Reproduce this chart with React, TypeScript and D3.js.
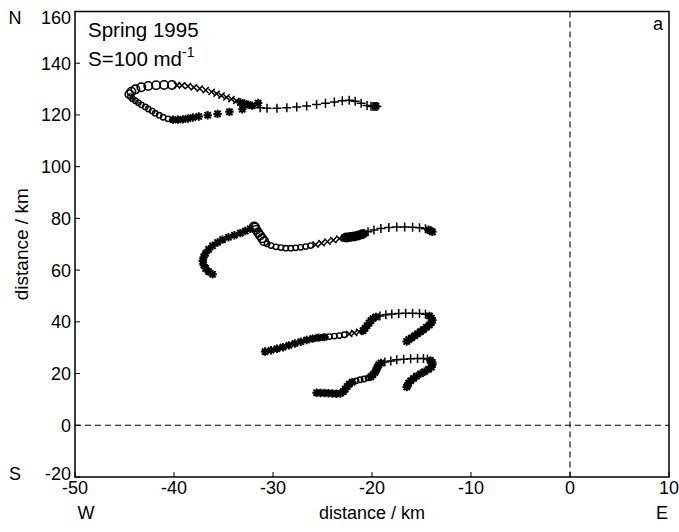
import React from "react";
import * as d3 from "d3";

type P = [number, number];

// ---- axis ticks ----
const xTicks = [-50, -40, -30, -20, -10, 0, 10];
const yTicks = [-20, 0, 20, 40, 60, 80, 100, 120, 140, 160];

// ---- trajectory 1 (top) ----
const t1Plus: P[] = [[-19.5,123.3],[-19.7,123.3],[-19.9,123.3],[-20.1,123.4],[-20.5,123.7],[-21.1,124.5],[-21.7,125.3],[-22.3,125.7],[-23.0,125.5],[-23.8,125.0],[-24.7,124.5],[-25.6,124.0],[-26.6,123.5],[-27.6,123.1],[-28.6,122.8],[-29.6,122.6],[-30.6,122.6],[-31.3,122.8]];
const t1StarA: P[] = [[-19.6,123.4],[-31.5,124.6],[-32.1,123.6],[-32.5,124.0],[-32.9,124.4],[-33.3,124.8]];
const t1Cross: P[] = [[-33.7,125.4],[-34.2,126.1],[-34.7,126.8],[-35.2,127.5],[-35.7,128.2],[-36.2,128.9],[-36.8,129.6],[-37.4,130.2],[-38.0,130.7],[-38.6,131.1],[-39.2,131.4],[-39.7,131.5]];
const t1Circle: P[] = [[-40.2,131.6],[-41.0,131.6],[-41.8,131.5],[-42.6,131.2],[-43.3,130.7],[-43.9,129.9],[-44.3,129.0],[-44.5,128.0]];
const t1Small: P[] = [[-44.4,127.1],[-44.2,126.3],[-43.9,125.5],[-43.6,124.7],[-43.3,123.9],[-42.9,123.1],[-42.6,122.3],[-42.2,121.5],[-41.9,120.7],[-41.5,119.9],[-41.1,119.1],[-40.6,118.5]];
const t1Star: P[] = [[-40.1,118.2],[-39.6,118.2],[-39.1,118.3],[-38.6,118.6],[-38.1,119.0],[-37.5,119.4],[-36.6,119.9],[-35.6,120.4],[-34.4,121.2],[-33.1,122.2]];

// ---- trajectory 2 ----
const t2Plus: P[] = [[-14.6,76.0],[-15.2,76.4],[-15.9,76.6],[-16.7,76.7],[-17.5,76.7],[-18.3,76.5],[-19.1,76.1],[-19.8,75.5],[-20.4,74.8]];
const t2StarA: P[] = [[-13.9,74.8],[-14.1,75.2],[-14.3,75.6],[-20.8,74.2],[-21.2,73.6],[-21.6,73.2],[-22.0,72.9],[-22.4,72.7],[-22.8,72.6]];
const t2CircleA: P[] = [[-21.0,73.9],[-21.4,73.4],[-21.8,73.0],[-22.2,72.8],[-22.6,72.6]];
const t2Cross: P[] = [[-23.3,72.2],[-23.9,71.6],[-24.5,71.0],[-25.1,70.4],[-25.7,69.9]];
const t2Small: P[] = [[-26.2,69.5],[-26.7,69.1],[-27.2,68.8],[-27.7,68.6],[-28.2,68.5],[-28.7,68.5],[-29.2,68.7],[-29.7,69.0],[-30.2,69.5],[-30.6,70.2]];
const t2Circle: P[] = [[-30.9,71.2],[-31.1,72.3],[-31.3,73.4],[-31.5,74.5],[-31.7,75.6],[-31.8,76.5],[-31.9,76.9]];
const t2Star: P[] = [[-32.3,76.0],[-32.8,75.1],[-33.3,74.3],[-33.9,73.5],[-34.5,72.7],[-35.1,71.8],[-35.6,70.7],[-36.1,69.4],[-36.5,68.0],[-36.8,66.5],[-37.0,65.0],[-37.1,63.5],[-37.0,62.0],[-36.8,60.6],[-36.5,59.4],[-36.1,58.4]];

// ---- trajectory 3 ----
const t3Star: P[] = [[-30.8,28.5],[-30.2,29.0],[-29.6,29.6],[-29.0,30.2],[-28.4,30.9],[-27.8,31.6],[-27.2,32.3],[-26.6,33.0],[-26.0,33.5],[-25.4,33.9],[-24.8,34.1]];
const t3Circle: P[] = [[-25.6,33.8],[-25.0,34.0],[-24.3,34.3],[-23.8,34.5],[-23.3,34.7],[-22.8,35.0]];
const t3Cross: P[] = [[-22.3,35.3],[-21.8,35.7],[-21.3,36.1]];
const t3StarB: P[] = [[-20.9,36.6],[-20.7,37.5],[-20.5,38.5],[-20.3,39.5],[-20.1,40.5],[-19.9,41.3],[-19.6,41.9],[-14.2,42.3],[-14.0,41.5],[-13.9,40.6],[-14.0,39.7],[-14.2,38.8],[-14.5,37.9],[-14.8,37.0],[-15.1,36.2],[-15.4,35.4],[-15.7,34.6],[-16.0,33.8],[-16.3,33.1],[-16.5,32.4]];
const t3Plus: P[] = [[-19.2,42.3],[-18.6,42.7],[-18.0,43.0],[-17.3,43.2],[-16.6,43.3],[-15.9,43.3],[-15.2,43.2],[-14.6,42.9]];

// ---- trajectory 4 (bottom) ----
const t4Star: P[] = [[-25.6,12.6],[-25.2,12.5],[-24.8,12.5],[-24.4,12.4],[-24.0,12.3],[-23.6,12.2],[-23.2,12.3],[-22.9,13.0],[-22.7,14.0],[-22.5,15.0],[-22.3,15.9],[-22.0,16.7]];
const t4Circle: P[] = [[-21.6,17.2],[-21.2,17.6],[-20.8,17.9],[-20.4,18.3]];
const t4StarB: P[] = [[-20.1,18.8],[-19.9,19.6],[-19.7,20.4],[-19.6,21.2],[-19.5,22.0],[-19.4,22.8],[-19.3,23.5],[-19.1,24.1],[-14.1,25.1],[-13.9,24.3],[-13.9,23.4],[-14.0,22.5],[-14.3,21.6],[-14.7,20.7],[-15.1,19.9],[-15.5,19.0],[-15.8,18.1],[-16.1,17.2],[-16.3,16.3],[-16.4,15.4],[-16.5,14.8]];
const t4Plus: P[] = [[-18.7,24.5],[-18.1,24.9],[-17.5,25.3],[-16.8,25.5],[-16.1,25.7],[-15.4,25.8],[-14.8,25.8],[-14.4,25.6]];

type Marker = "plus" | "cross" | "circle" | "small" | "star";
const segments: { pts: P[]; m: Marker }[] = [
  { pts: t1Plus, m: "plus" }, { pts: t1StarA, m: "star" }, { pts: t1Cross, m: "cross" },
  { pts: t1Circle, m: "circle" }, { pts: t1Small, m: "small" }, { pts: t1Star, m: "star" },
  { pts: t2Plus, m: "plus" }, { pts: t2StarA, m: "star" }, { pts: t2CircleA, m: "circle" },
  { pts: t2Cross, m: "cross" }, { pts: t2Small, m: "small" }, { pts: t2Circle, m: "circle" },
  { pts: t2Star, m: "star" },
  { pts: t3Star, m: "star" }, { pts: t3Circle, m: "small" }, { pts: t3Cross, m: "cross" },
  { pts: t3StarB, m: "star" }, { pts: t3Plus, m: "plus" },
  { pts: t4Star, m: "star" }, { pts: t4Circle, m: "small" }, { pts: t4StarB, m: "star" },
  { pts: t4Plus, m: "plus" },
];

const FONT = "'Liberation Sans', Arial, sans-serif";

function markerEl(m: Marker, cx: number, cy: number, key: string) {
  if (m === "circle") return <circle key={key} cx={cx} cy={cy} r={4.2} fill="none" stroke="#000" strokeWidth={1.6} />;
  if (m === "small") return <circle key={key} cx={cx} cy={cy} r={2.7} fill="none" stroke="#000" strokeWidth={1.4} />;
  let d = "";
  if (m === "plus" || m === "star") {
    const s = m === "star" ? 4.2 : 4.5;
    d += `M${cx - s},${cy}H${cx + s}M${cx},${cy - s}V${cy + s}`;
  }
  if (m === "cross" || m === "star") {
    const s = 3.1;
    d += `M${cx - s},${cy - s}L${cx + s},${cy + s}M${cx - s},${cy + s}L${cx + s},${cy - s}`;
  }
  return <path key={key} d={d} stroke="#000" strokeWidth={m === "star" ? 2 : 1.5} fill="none" />;
}

export default function App() {
  const W = 679, H = 532;
  const left = 75, right = 669, top = 11.5, bottom = 477;
  const x = d3.scaleLinear().domain([-50, 10]).range([left, right]);
  const y = d3.scaleLinear().domain([-20, 160]).range([bottom, top]);

  return (
    <svg width={W} height={H} style={{ position: "absolute", left: 0, top: 0, background: "#fff" }} fontFamily={FONT}>
      <rect x={0} y={0} width={W} height={H} fill="#fff" />
      {/* dashed zero lines */}
      <line x1={left} x2={right} y1={y(0)} y2={y(0)} stroke="#000" strokeWidth={1.1} strokeDasharray="6,4" />
      <line x1={x(0)} x2={x(0)} y1={top} y2={bottom} stroke="#000" strokeWidth={1.1} strokeDasharray="6,4" />
      {/* markers */}
      {segments.map((s, i) => s.pts.map((p, j) => markerEl(s.m, x(p[0]), y(p[1]), `${i}-${j}`)))}
      {/* frame */}
      <rect x={left} y={top} width={right - left} height={bottom - top} fill="none" stroke="#000" strokeWidth={1.5} />
      {/* x ticks */}
      {xTicks.map((t) => (
        <g key={"x" + t}>
          <line x1={x(t)} x2={x(t)} y1={bottom} y2={bottom - 5} stroke="#000" strokeWidth={1} />
          <text x={x(t)} y={494} textAnchor="middle" fontSize={18}>{t}</text>
        </g>
      ))}
      {/* y ticks */}
      {yTicks.map((t) => (
        <g key={"y" + t}>
          <line x1={left} x2={left + 5} y1={y(t)} y2={y(t)} stroke="#000" strokeWidth={1} />
          <text x={71} y={t === 160 ? 23.5 : t === -20 ? 479.5 : y(t) + 6.5} textAnchor="end" fontSize={18}>{t}</text>
        </g>
      ))}
      {/* labels */}
      <text x={372} y={519} textAnchor="middle" fontSize={18}>distance / km</text>
      <text x={86} y={519} textAnchor="middle" fontSize={18}>W</text>
      <text x={662} y={519} textAnchor="middle" fontSize={18}>E</text>
      <text x={15} y={24} textAnchor="middle" fontSize={18}>N</text>
      <text x={15} y={480} textAnchor="middle" fontSize={18}>S</text>
      <text transform={`translate(28,${(top + bottom) / 2}) rotate(-90)`} textAnchor="middle" fontSize={19}>distance / km</text>
      <text x={88} y={37} fontSize={20.5}>Spring 1995</text>
      <text x={88} y={66} fontSize={20.5}>S=100 md<tspan dy={-9} fontSize={14}>-1</tspan></text>
      <text x={658} y={30} textAnchor="middle" fontSize={18}>a</text>
    </svg>
  );
}
